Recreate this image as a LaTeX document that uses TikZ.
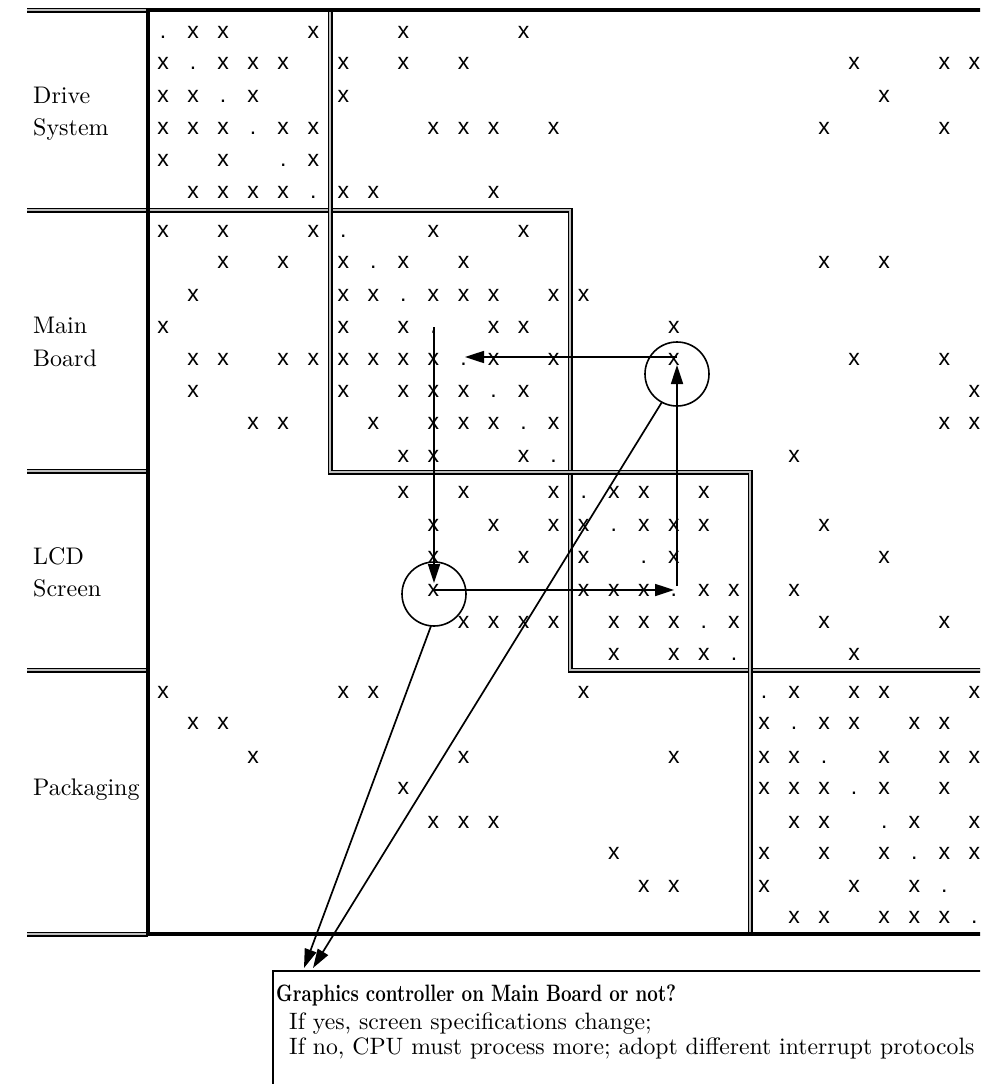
\documentclass[tikz,border=0pt]{standalone}
\usepackage{fontspec}
\setmainfont{lmroman10-regular.otf}[BoldFont=lmroman10-bold.otf,ItalicFont=lmroman10-italic.otf]
\newfontfamily\xfont{Liberation Sans}
\usetikzlibrary{arrows.meta}
\begin{document}
\begin{tikzpicture}[x=1pt,y=-1pt,
  ent/.style={inner sep=0pt,outer sep=0pt,anchor=base,font=\xfont\fontsize{23}{23}\selectfont},
  lab/.style={inner sep=0pt,anchor=base west,font=\fontsize{24}{28}\selectfont},
  boxtext/.style={inner sep=0pt,anchor=base west,font=\fontsize{23.7}{28}\selectfont},
  dbl/.style={line width=1.6pt,double=black!25,double distance=1.8pt},
  heavy/.style={line width=4.5pt},
  arr/.style={line width=1.7pt,-{Triangle[length=19pt,width=12pt]}},
  ring/.style={draw,circle,line width=1.6pt,minimum size=64pt,inner sep=0pt},
  qbox/.style={draw,line width=1.6pt,anchor=north west,inner sep=0pt,minimum width=760pt,minimum height=150pt},
]
\useasboundingbox (0,0) rectangle (980,1084);
\fill[white] (0,0) rectangle (980,1084);
\clip (0,0) rectangle (980,1084);

% label column separators
\foreach \yy in {10,210,471,670,934}{\draw[dbl] (27,\yy) -- (148,\yy);}
% staircase of diagonal blocks
\draw[dbl] (148,210) -- (570,210) -- (570,670) -- (990,670);
\draw[dbl] (330,10) -- (330,472) -- (750,472) -- (750,934);
% outer frame
\draw[heavy] (148,10) -- (990,10);
\draw[heavy] (148,934) -- (990,934);
\draw[heavy] (148,8) -- (148,936);

% row labels
\node[lab] (l1) at (33,103) {Drive};
\node[lab] (l2) at (33,135) {System};
\node[lab] (l3) at (33,333) {Main};
\node[lab] (l4) at (33,366) {Board};
\node[lab] (l5) at (33,564) {LCD};
\node[lab] (l6) at (33,596) {Screen};
\node[lab] (l7) at (33,795) {Packaging};

% matrix entries
\def\rowys{{32,63,96,128,160,192,231,262,295,327,359,391,423,456,492,525,557,590,622,654,692,723,757,788,822,853,886,917}}
\foreach \r/\cols in {
 0/{1,2,5,8,12},
 1/{0,2,3,4,6,8,10,23,26,27},
 2/{0,1,3,6,24},
 3/{0,1,2,4,5,9,10,11,13,22,26},
 4/{0,2,5},
 5/{1,2,3,4,6,7,11},
 6/{0,2,5,9,12},
 7/{2,4,6,8,10,22,24},
 8/{1,6,7,9,10,11,13,14},
 9/{0,6,8,11,12,17},
 10/{1,2,4,5,6,7,8,9,11,13,17,23,26},
 11/{1,6,8,9,10,12,27},
 12/{3,4,7,9,10,11,13,26,27},
 13/{8,9,12,21},
 14/{8,10,13,15,16,18},
 15/{9,11,13,14,16,17,18,22},
 16/{9,12,14,17,24},
 17/{9,14,15,16,18,19,21},
 18/{10,11,12,13,15,16,17,19,22,26},
 19/{15,17,18,23},
 20/{0,6,7,14,21,23,24,27},
 21/{1,2,20,22,23,25,26},
 22/{3,10,17,20,21,24,26,27},
 23/{8,20,21,22,24,26},
 24/{9,10,11,21,22,25,27},
 25/{15,20,22,24,26,27},
 26/{16,17,20,23,25},
 27/{21,22,24,25,26}}{
  \pgfmathsetmacro\yb{\rowys[\r]+6}
  \foreach \c in \cols {
    \pgfmathsetmacro\xc{163+30.05*\c}
    \node[ent] (m-\r-\c) at (\xc,\yb) {x};
  }
  \pgfmathsetmacro\xd{163+30.05*\r}
  \node[ent] (m-\r-\r) at (\xd,\yb) {.};
}

% circles
\node[ring] (cM) at (677,374) {};
\node[ring] (cL) at (434,594) {};

% loop of arrows
\coordinate (pA0) at (434,327);
\coordinate (pA1) at (434,583);
\coordinate (pB0) at (434,590);
\coordinate (pB1) at (674,590);
\coordinate (pC0) at (677,586);
\coordinate (pC1) at (677,365);
\coordinate (pD0) at (677,357);
\coordinate (pD1) at (465,357);
\draw[arr] (pA0) -- (pA1);
\draw[arr] (pB0) -- (pB1);
\draw[arr] (pC0) -- (pC1);
\draw[arr] (pD0) -- (pD1);

% question box
\node[qbox] (q) at (272,970) {};
\node[boxtext] (t1) at (276,1001) {\resizebox{400pt}{\height}{\bfseries Graphics controller on Main Board or not?}};
\node[boxtext] (t2) at (289,1029) {If yes, screen specifications change;};
\node[boxtext] (t3) at (289,1054) {If no, CPU must process more; adopt different interrupt protocols};

% links from circles to the box
\coordinate (e0) at (431,626);
\coordinate (e1) at (304,968);
\coordinate (f0) at (662,402);
\coordinate (f1) at (313,968);
\draw[arr] (e0) -- (e1);
\draw[arr] (f0) -- (f1);
\end{tikzpicture}
\end{document}
